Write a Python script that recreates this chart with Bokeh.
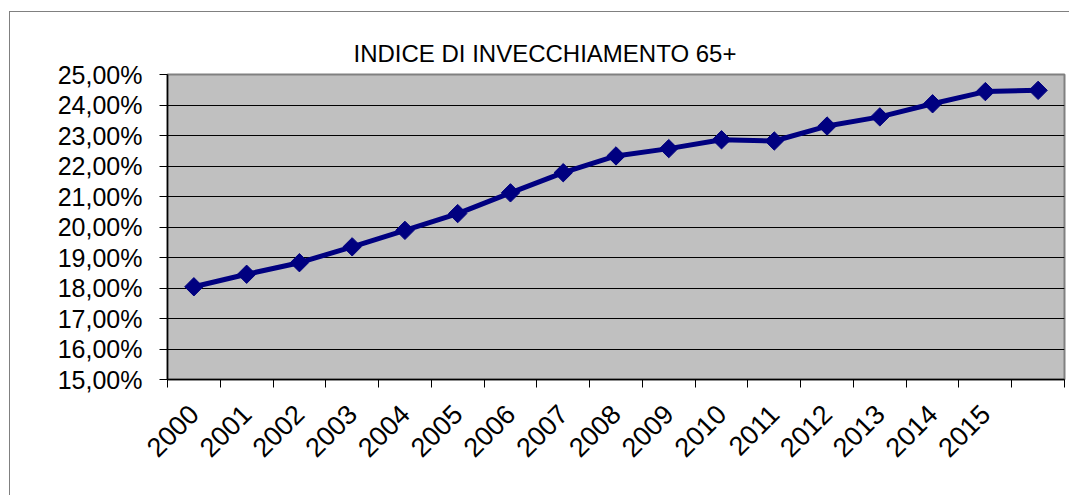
from bokeh.plotting import figure
from bokeh.models import FixedTicker, Range1d
from bokeh.embed import file_html
from bokeh.resources import INLINE
import math

# ---- data ----
years = ["2000", "2001", "2002", "2003", "2004", "2005", "2006", "2007",
         "2008", "2009", "2010", "2011", "2012", "2013", "2014", "2015", ""]
values = [18.04, 18.45, 18.83, 19.35, 19.89, 20.44, 21.12, 21.78,
          22.33, 22.57, 22.86, 22.82, 23.31, 23.61, 24.04, 24.44, 24.48]
y_ticks = [15, 16, 17, 18, 19, 20, 21, 22, 23, 24, 25]
y_tick_labels = ["15,00%", "16,00%", "17,00%", "18,00%", "19,00%", "20,00%",
                 "21,00%", "22,00%", "23,00%", "24,00%", "25,00%"]
title_text = "INDICE DI INVECCHIAMENTO 65+"

n = len(years)
xs = [i + 0.5 for i in range(n)]
FONT = "Liberation Sans"

p = figure(
    output_backend="svg", toolbar_location=None,
    frame_width=897, frame_height=305,
    min_border_left=157, min_border_right=5,
    min_border_top=62, min_border_bottom=116,
    x_range=Range1d(0, n), y_range=Range1d(y_ticks[0], y_ticks[-1]),
    background_fill_color="#C0C0C0", border_fill_color="white",
)
p.styles = {"margin-left": "9px", "margin-top": "11px",
            "border-left": "1px solid #808080", "border-top": "1px solid #808080"}

p.outline_line_color = "#808080"
p.outline_line_width = 2

# title
p.title.text = title_text
p.title.text_font = FONT
p.title.text_font_size = "24px"
p.title.text_font_style = "normal"
p.title.text_color = "black"
p.title.align = "left"
p.title.offset = 186
p.title.standoff = 15

# x axis
xa = p.xaxis[0]
xa.ticker = FixedTicker(ticks=xs, minor_ticks=list(range(n + 1)))
xa.major_label_overrides = {x: y for x, y in zip(xs, years)}
xa.major_tick_line_color = None
xa.major_tick_out = 0
xa.major_tick_in = 0
xa.minor_tick_line_color = "black"
xa.minor_tick_out = 8
xa.minor_tick_in = 0
xa.axis_line_color = "black"
xa.axis_line_width = 1.5
xa.major_label_orientation = math.pi / 4
xa.major_label_text_font = FONT
xa.major_label_text_font_size = "27px"
xa.major_label_text_color = "black"
xa.major_label_standoff = 22

# y axis
ya = p.yaxis[0]
ya.ticker = FixedTicker(ticks=y_ticks)
ya.major_label_overrides = {t: s for t, s in zip(y_ticks, y_tick_labels)}
ya.major_tick_out = 8
ya.major_tick_in = 0
ya.major_tick_line_color = "black"
ya.minor_tick_line_color = None
ya.axis_line_color = "black"
ya.axis_line_width = 1.5
ya.major_label_text_font = FONT
ya.major_label_text_font_size = "25px"
ya.major_label_text_color = "black"
ya.major_label_standoff = 17

p.xgrid.grid_line_color = None
p.ygrid.grid_line_color = "black"
p.ygrid.grid_line_width = 1

p.line(xs, values, line_color="#000080", line_width=5)
p.scatter(xs, values, marker="square", angle=math.pi / 4, size=13,
          fill_color="#000080", line_color="#000080")

open("out.html", "w").write(file_html(p, INLINE))
